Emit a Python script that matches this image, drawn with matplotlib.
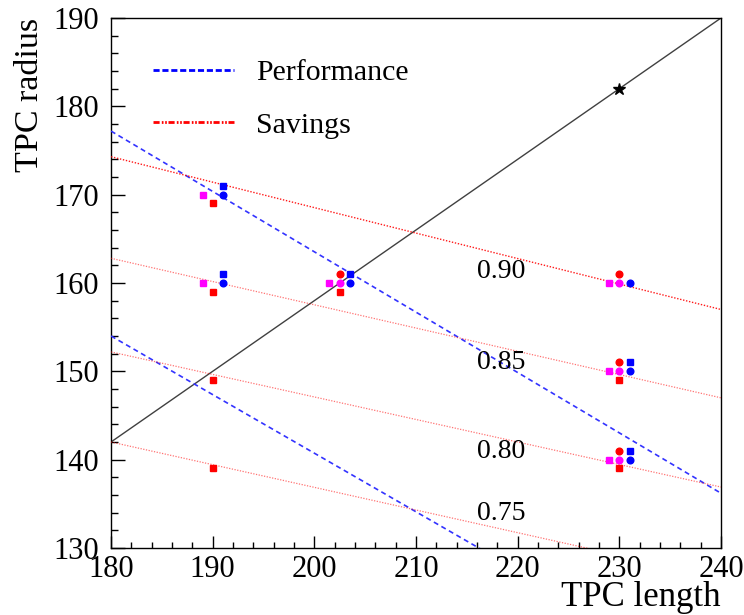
import matplotlib
matplotlib.use("Agg")
import matplotlib.pyplot as plt
import numpy as np
from matplotlib.lines import Line2D
from matplotlib.ticker import MultipleLocator

plt.rcParams['font.family'] = ['Liberation Serif', 'DejaVu Serif']

# Diagonal reference line and star
diag_x = [180, 240]
diag_y = [142, 190]
star_x = [230]
star_y = [182]

# Performance (blue dashed) lines: value at x=180 and x=240
perf_y180 = [177.2, 154.0]
perf_y240 = [136.2, 114.2]

# Savings (red dotted) lines: value at x=180 and x=240
sav_y180 = [174.3, 162.8, 152.2, 142.0]
sav_y240 = [157.0, 147.0, 136.9, 126.6]
sav_labels = ["0.90", "0.85", "0.80", "0.75"]
sav_label_x = [216.0, 216.0, 216.0, 216.0]
sav_label_y = [161.3, 151.0, 140.9, 133.9]

# Marker series
red_sq_x = [190, 190, 190, 190, 202.5, 230, 230]
red_sq_y = [169, 159, 149, 139, 159, 149, 139]
red_ci_x = [202.5, 230, 230, 230]
red_ci_y = [161, 161, 151, 141]
mag_sq_x = [189, 189, 201.4, 229, 229, 229]
mag_sq_y = [170, 160, 160, 160, 150, 140]
mag_ci_x = [202.5, 230, 230, 230]
mag_ci_y = [160, 160, 150, 140]
blu_sq_x = [191, 191, 203.5, 231, 231]
blu_sq_y = [171, 161, 161, 151, 141]
blu_ci_x = [191, 191, 203.5, 231, 231, 231]
blu_ci_y = [170, 160, 160, 160, 150, 140]

fig = plt.figure(figsize=(7.44, 6.15), dpi=100)
ax = fig.add_axes([111/744, 1-548/615, 610/744, 530/615])

ax.plot(diag_x, diag_y, color='#404040', lw=1.0, zorder=2)
ax.plot(star_x, star_y, marker='*', color='black', ms=9, ls='none', zorder=5)

xx = np.array([180, 240])
for a, b in zip(perf_y180, perf_y240):
    ax.plot(xx, [a, b], color='#3333ff', lw=1.2, ls=(0, (3, 2.2)), zorder=3)

for i, (a, b) in enumerate(zip(sav_y180, sav_y240)):
    ax.plot(xx, [a, b], color='red', lw=1.0 if i == 0 else 0.9,
            alpha=0.9 if i == 0 else 0.55, ls=(0, (1, 1.2)), zorder=3)

for t, x, y in zip(sav_labels, sav_label_x, sav_label_y):
    ax.text(x, y, t, fontsize=20, ha='left', va='center', zorder=6)

ms = 4.8
ax.plot(red_sq_x, red_sq_y, 's', color='red', ms=ms, zorder=4)
ax.plot(red_ci_x, red_ci_y, 'o', color='red', ms=ms, zorder=4)
ax.plot(mag_sq_x, mag_sq_y, 's', color='magenta', ms=ms, zorder=4)
ax.plot(mag_ci_x, mag_ci_y, 'o', color='magenta', ms=ms, zorder=4)
ax.plot(blu_sq_x, blu_sq_y, 's', color='blue', ms=ms, zorder=4)
ax.plot(blu_ci_x, blu_ci_y, 'o', color='blue', ms=ms, zorder=4)

ax.set_xlim(180, 240)
ax.set_ylim(130, 190)
ax.xaxis.set_major_locator(MultipleLocator(10))
ax.xaxis.set_minor_locator(MultipleLocator(2))
ax.yaxis.set_major_locator(MultipleLocator(10))
ax.yaxis.set_minor_locator(MultipleLocator(2))
ax.tick_params(which='both', direction='in', top=False, right=False, labelsize=22)
ax.tick_params(axis='x', which='major', length=8.5, width=1, pad=5)
ax.tick_params(axis='x', which='minor', length=4.3, width=1)
ax.tick_params(axis='y', which='major', length=10, width=1, pad=9)
ax.tick_params(axis='y', which='minor', length=5, width=1)
for s in ax.spines.values():
    s.set_linewidth(1.0)

ax.set_xlabel('TPC length', fontsize=25, loc='right', labelpad=-2)
ax.set_ylabel('TPC radius', fontsize=24.5, loc='top', labelpad=6)

handles = [Line2D([], [], color='blue', lw=2.0, ls=(0, (2.2, 1.0))),
           Line2D([], [], color='red', lw=2.0, ls=(0, (2.2, 0.8, 0.6, 0.6, 0.6, 0.6)))]
ax.legend(handles, ['Performance', 'Savings'], loc='upper left',
          bbox_to_anchor=(0.045, 0.95), frameon=False, fontsize=21.5,
          handlelength=2.7, handletextpad=0.75, labelspacing=0.85, borderpad=0)

fig.savefig('out.png', dpi=100)
